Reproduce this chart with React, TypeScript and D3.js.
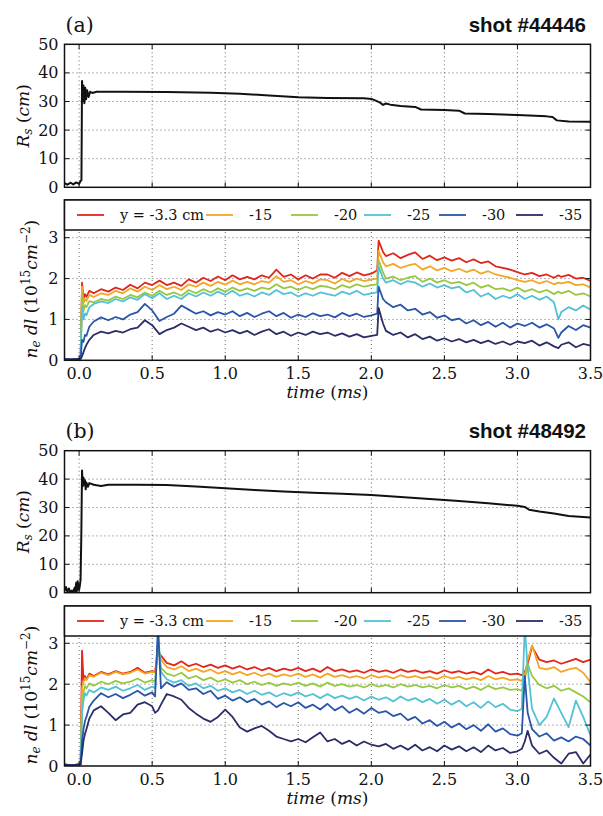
import React from 'react';
import * as d3 from 'd3';

const SERIF = '"DejaVu Serif", serif';
const SANS = '"Liberation Sans", Arial, sans-serif';

// ---- data ----
const xTicks = [0, 0.5, 1.0, 1.5, 2.0, 2.5, 3.0, 3.5];
const rsTicks = [0, 10, 20, 30, 40, 50];
const densTicks = [0, 1, 2, 3];

const seriesLabels = ['y = -3.3 cm', '-15', '-20', '-25', '-30', '-35'];
const seriesColors = ['#e2261c', '#f4a623', '#98c840', '#52c2d4', '#2a55a8', '#2b2d66'];

// shot #44446, shock radius
const rsTimeA = [-0.1, -0.08, -0.06, -0.04, -0.02, 0.0, 0.01, 0.016, 0.02, 0.025,
  0.03, 0.036, 0.042, 0.048, 0.055, 0.065, 0.075, 0.09, 0.12, 0.3,
  0.6, 0.9, 1.1, 1.3, 1.5, 1.7, 1.95, 2.0, 2.03, 2.06,
  2.08, 2.1, 2.13, 2.2, 2.3, 2.34, 2.5, 2.6, 2.64, 2.8,
  3.0, 3.2, 3.24, 3.27, 3.35, 3.5];
const rsA = [1.5, 0.9, 1.6, 1.0, 1.7, 1.2, 2.2, 2.5, 37.2, 30.2,
  35.6, 29.4, 34.8, 30.8, 33.9, 31.6, 33.4, 33.0, 33.4, 33.4,
  33.3, 33.1, 32.7, 32.1, 31.5, 31.2, 31.1, 30.9, 30.3, 29.6,
  28.8, 29.3, 28.9, 28.4, 28.1, 27.2, 27.0, 26.8, 25.8, 25.6,
  25.3, 24.8, 24.6, 23.4, 23.0, 22.9];

// shot #48492, shock radius
const rsTimeB = [-0.1, -0.09, -0.08, -0.07, -0.06, -0.05, -0.04, -0.03, -0.025, -0.02,
  -0.015, -0.01, 0.0, 0.005, 0.01, 0.015, 0.02, 0.025, 0.03, 0.035,
  0.04, 0.045, 0.05, 0.06, 0.07, 0.1, 0.15, 0.2, 0.4, 0.6,
  0.8, 1.0, 1.2, 1.4, 1.6, 1.8, 2.0, 2.2, 2.4, 2.6,
  2.8, 3.0, 3.05, 3.08, 3.15, 3.25, 3.35, 3.5];
const rsB = [0.5, 2.0, 0.3, 1.5, 0.0, 0.8, 0.2, 1.8, 0.5, 3.5,
  0.6, 4.0, 1.0, 2.5, 4.5, 20, 43.0, 37.5, 40.5, 38.0,
  39.6, 36.4, 38.8, 37.3, 38.6, 38.0, 37.6, 38.0, 38.0, 37.9,
  37.4, 36.8, 36.2, 35.6, 35.2, 34.8, 34.4, 33.7, 33.0, 32.3,
  31.5, 30.6, 30.2, 29.2, 28.6, 27.9, 27.0, 26.5];

// shot #44446, line-integrated density
const tA = [-0.1, -0.05, 0.01, 0.02, 0.03, 0.04, 0.05, 0.07, 0.1, 0.15,
  0.2, 0.25, 0.3, 0.35, 0.4, 0.45, 0.5, 0.55, 0.6, 0.65,
  0.7, 0.75, 0.8, 0.85, 0.9, 0.95, 1.0, 1.05, 1.1, 1.15,
  1.2, 1.25, 1.3, 1.35, 1.4, 1.45, 1.5, 1.55, 1.6, 1.65,
  1.7, 1.75, 1.8, 1.85, 1.9, 1.95, 2.0, 2.04, 2.05, 2.08,
  2.1, 2.15, 2.2, 2.25, 2.3, 2.35, 2.4, 2.45, 2.5, 2.55,
  2.6, 2.65, 2.7, 2.75, 2.8, 2.85, 2.9, 2.95, 3.0, 3.05,
  3.1, 3.15, 3.2, 3.25, 3.28, 3.3, 3.35, 3.4, 3.45, 3.5];
const redA = [0.03, 0.02, 0.04, 1.9, 1.5, 1.62, 1.55, 1.7, 1.64, 1.74,
  1.68, 1.78, 1.72, 1.85, 1.76, 1.9, 1.84, 1.95, 1.84, 1.9,
  1.82, 1.98, 1.9, 2.02, 1.94, 2.05, 1.96, 2.08, 1.98, 2.04,
  1.98, 2.08, 2.02, 2.22, 2.04, 2.1, 1.98, 2.08, 2.0, 2.1,
  2.1, 2.02, 2.14, 2.06, 2.15, 2.08, 2.12, 2.2, 2.93, 2.65,
  2.55, 2.62, 2.5, 2.58, 2.64, 2.48, 2.56, 2.45, 2.52, 2.44,
  2.5, 2.4, 2.47, 2.38, 2.42, 2.3, 2.26, 2.22, 2.16, 2.1,
  2.14, 2.06, 2.1, 2.02, 2.08, 2.04, 2.09, 2.0, 2.02, 1.94];
const orangeA = [0.03, 0.02, 0.04, 1.8, 1.4, 1.5, 1.45, 1.6, 1.55, 1.64,
  1.6, 1.7, 1.64, 1.76, 1.68, 1.8, 1.72, 1.84, 1.74, 1.8,
  1.72, 1.86, 1.8, 1.9, 1.82, 1.92, 1.85, 1.95, 1.86, 1.92,
  1.86, 1.94, 1.9, 2.06, 1.92, 1.96, 1.86, 1.94, 1.88, 1.98,
  1.96, 1.88, 1.99, 1.92, 2.0, 1.94, 1.98, 2.0, 2.68, 2.4,
  2.3, 2.36, 2.26, 2.32, 2.36, 2.22, 2.3, 2.2, 2.26, 2.18,
  2.24, 2.16, 2.22, 2.12, 2.18, 2.1, 2.06, 2.02, 1.96, 1.92,
  1.96, 1.88, 1.94, 1.86, 1.9, 1.88, 1.92, 1.84, 1.86, 1.78];
const greenA = [0.03, 0.02, 0.04, 1.6, 1.2, 1.35, 1.3, 1.45, 1.42, 1.5,
  1.46, 1.56, 1.5, 1.6, 1.54, 1.66, 1.58, 1.7, 1.6, 1.66,
  1.58, 1.72, 1.64, 1.74, 1.66, 1.76, 1.68, 1.78, 1.7, 1.76,
  1.7, 1.78, 1.74, 1.86, 1.76, 1.8, 1.72, 1.8, 1.74, 1.82,
  1.8, 1.74, 1.84, 1.78, 1.86, 1.8, 1.84, 1.86, 2.45, 2.15,
  2.0, 2.05, 1.96, 2.02, 2.06, 1.92, 2.0, 1.9, 1.96, 1.88,
  1.92, 1.84, 1.9, 1.78, 1.84, 1.74, 1.76, 1.7, 1.78, 1.68,
  1.74, 1.66, 1.72, 1.62, 1.68, 1.64, 1.7, 1.6, 1.64, 1.56];
const cyanA = [0.03, 0.02, 0.04, 1.3, 1.0, 1.15, 1.1, 1.3, 1.38, 1.44,
  1.4, 1.5, 1.44, 1.54, 1.48, 1.62, 1.52, 1.64, 1.5, 1.58,
  1.5, 1.64, 1.56, 1.66, 1.58, 1.68, 1.6, 1.7, 1.58, 1.64,
  1.56, 1.66, 1.6, 1.72, 1.62, 1.66, 1.56, 1.64, 1.58, 1.66,
  1.62, 1.58, 1.68, 1.62, 1.7, 1.6, 1.64, 1.66, 2.3, 2.0,
  1.9, 1.96, 1.86, 1.94, 1.9, 1.8, 1.88, 1.78, 1.84, 1.76,
  1.8, 1.66, 1.72, 1.56, 1.64, 1.5, 1.58, 1.52, 1.62, 1.5,
  1.58, 1.48, 1.56, 1.42, 1.0, 1.18, 1.3, 1.22, 1.34, 1.24];
const blueA = [0.03, 0.02, 0.04, 0.5, 0.45, 0.62, 0.6, 0.82, 0.95, 1.05,
  0.98, 1.06, 1.0, 1.12, 1.18, 1.38, 1.22, 0.96, 1.06, 1.14,
  1.34, 1.24, 1.14, 1.2, 1.1, 1.18, 1.12, 1.2, 1.08, 1.16,
  1.06, 1.14, 1.2, 1.08, 1.16, 1.04, 1.12, 1.06, 1.15, 1.08,
  1.12, 1.05, 1.16, 1.08, 1.14, 1.06, 1.1, 1.14, 1.8, 1.5,
  1.42, 1.3, 1.36, 1.22, 1.26, 1.12, 1.18, 1.04, 1.1, 0.98,
  1.02, 0.9, 0.98, 0.86, 0.94, 0.82, 0.92, 0.8, 0.9, 0.84,
  0.92, 0.8, 0.88, 0.78, 0.55, 0.68, 0.84, 0.74, 0.86, 0.8];
const navyA = [0.03, 0.02, 0.04, 0.1, 0.2, 0.3, 0.38, 0.5, 0.62, 0.7,
  0.66, 0.72, 0.68, 0.76, 0.8, 0.98, 0.86, 0.64, 0.74, 0.8,
  0.9, 0.82, 0.74, 0.8, 0.7, 0.76, 0.68, 0.74, 0.66, 0.72,
  0.62, 0.7, 0.76, 0.64, 0.7, 0.6, 0.68, 0.62, 0.7, 0.64,
  0.68, 0.6, 0.66, 0.58, 0.64, 0.56, 0.6, 0.62, 1.28, 0.9,
  0.72, 0.62, 0.68, 0.56, 0.64, 0.52, 0.58, 0.48, 0.54, 0.46,
  0.52, 0.44, 0.5, 0.42, 0.48, 0.4, 0.46, 0.38, 0.46, 0.42,
  0.48, 0.36, 0.44, 0.34, 0.3, 0.38, 0.44, 0.32, 0.4, 0.36];

// shot #48492, line-integrated density
const tB = [-0.1, -0.05, 0.01, 0.02, 0.03, 0.04, 0.05, 0.07, 0.1, 0.15,
  0.2, 0.25, 0.3, 0.35, 0.4, 0.45, 0.5, 0.52, 0.54, 0.56,
  0.6, 0.65, 0.7, 0.75, 0.8, 0.85, 0.9, 0.95, 1.0, 1.05,
  1.1, 1.15, 1.2, 1.25, 1.3, 1.35, 1.4, 1.45, 1.5, 1.55,
  1.6, 1.65, 1.7, 1.75, 1.8, 1.85, 1.9, 1.95, 2.0, 2.05,
  2.1, 2.15, 2.2, 2.25, 2.3, 2.35, 2.4, 2.45, 2.5, 2.55,
  2.6, 2.65, 2.7, 2.75, 2.8, 2.85, 2.9, 2.95, 3.0, 3.03,
  3.05, 3.07, 3.1, 3.15, 3.2, 3.25, 3.3, 3.35, 3.4, 3.45,
  3.5];
const redB = [0.03, 0.02, 0.04, 2.82, 2.1, 2.2, 2.12, 2.26, 2.2, 2.3,
  2.24, 2.32, 2.26, 2.3, 2.4, 2.28, 2.32, 2.3, 2.8, 2.7,
  2.52, 2.46, 2.56, 2.44, 2.5, 2.42, 2.48, 2.4, 2.46, 2.38,
  2.44, 2.36, 2.42, 2.34, 2.4, 2.32, 2.38, 2.34, 2.4, 2.32,
  2.38, 2.3, 2.42, 2.32, 2.36, 2.3, 2.34, 2.28, 2.36, 2.3,
  2.34, 2.28, 2.36, 2.3, 2.34, 2.28, 2.32, 2.26, 2.34, 2.28,
  2.32, 2.26, 2.3, 2.24, 2.36, 2.26, 2.3, 2.24, 2.26, 2.22,
  2.3, 2.5, 2.92, 2.6, 2.54, 2.58, 2.5, 2.56, 2.62, 2.54,
  2.6];
const orangeB = [0.03, 0.02, 0.04, 1.9, 2.05, 2.15, 2.1, 2.22, 2.18, 2.28,
  2.22, 2.3, 2.24, 2.28, 2.36, 2.26, 2.3, 2.28, 2.9, 2.6,
  2.42, 2.36, 2.44, 2.32, 2.38, 2.3, 2.36, 2.26, 2.32, 2.24,
  2.3, 2.22, 2.28, 2.2, 2.26, 2.18, 2.24, 2.2, 2.26, 2.18,
  2.24, 2.16, 2.26, 2.18, 2.22, 2.16, 2.2, 2.14, 2.22, 2.16,
  2.2, 2.14, 2.22, 2.16, 2.2, 2.14, 2.18, 2.12, 2.2, 2.14,
  2.18, 2.12, 2.16, 2.1, 2.2, 2.12, 2.16, 2.1, 2.12, 2.08,
  2.2, 2.6, 2.95, 2.4, 2.36, 2.42, 2.3, 2.36, 2.4, 2.28,
  2.05];
const greenB = [0.03, 0.02, 0.04, 1.5, 1.8, 1.95, 1.9, 2.02, 1.96, 2.06,
  2.0, 2.08, 2.02, 2.06, 2.14, 2.04, 2.1, 2.06, 3.0, 2.4,
  2.26, 2.2, 2.28, 2.14, 2.2, 2.1, 2.16, 2.06, 2.12, 2.04,
  2.1, 2.0, 2.06, 1.98, 2.04, 1.96, 2.02, 1.98, 2.04, 1.96,
  2.02, 1.94, 2.04, 1.96, 2.0, 1.94, 1.98, 1.92, 2.0, 1.94,
  1.98, 1.92, 2.0, 1.94, 1.98, 1.92, 1.96, 1.9, 1.98, 1.92,
  1.96, 1.88, 1.94, 1.86, 1.96, 1.88, 1.92, 1.86, 1.88, 1.84,
  2.1, 2.5, 2.2, 1.98, 1.9, 1.96, 1.84, 1.9, 1.8, 1.7,
  1.56];
const cyanB = [0.03, 0.02, 0.04, 1.3, 1.6, 1.78, 1.72, 1.86, 1.8, 1.92,
  1.86, 1.94, 1.84, 1.9, 1.98, 1.86, 1.94, 1.9, 3.3, 2.3,
  2.12, 2.04, 2.1, 1.96, 2.02, 1.9, 1.96, 1.84, 1.9, 1.8,
  1.86, 1.76, 1.84, 1.74, 1.8, 1.7, 1.78, 1.72, 1.8, 1.7,
  1.76, 1.66, 1.76, 1.66, 1.72, 1.64, 1.7, 1.6, 1.7, 1.62,
  1.68, 1.58, 1.7, 1.6, 1.66, 1.56, 1.64, 1.52, 1.62, 1.5,
  1.6, 1.46, 1.56, 1.42, 1.58, 1.44, 1.52, 1.38, 1.34, 1.4,
  3.4, 2.4, 1.4, 1.0, 1.2, 1.65, 1.3, 0.95, 1.6, 1.2,
  0.75];
const blueB = [0.03, 0.02, 0.04, 0.6, 0.9, 1.1, 1.2, 1.45, 1.6, 1.78,
  1.68, 1.76, 1.66, 1.74, 1.84, 1.72, 1.8, 1.7, 3.4, 1.9,
  2.05, 1.94, 2.02, 1.86, 1.9, 1.76, 1.84, 1.64, 1.72, 1.6,
  1.68, 1.56, 1.64, 1.5, 1.58, 1.44, 1.54, 1.46, 1.56, 1.42,
  1.5, 1.38, 1.52, 1.36, 1.46, 1.3, 1.4, 1.28, 1.42, 1.3,
  1.34, 1.22, 1.28, 1.12, 1.2, 1.04, 1.12, 0.98, 1.08, 0.94,
  1.04, 0.9, 1.0, 0.86, 1.02, 0.84, 0.92, 0.78, 0.74, 0.8,
  2.2, 1.3, 0.9, 0.72, 0.8, 0.62, 0.7, 0.6, 0.72, 0.66,
  0.5];
const navyB = [0.03, 0.02, 0.04, 0.3, 0.62, 0.78, 0.9, 1.16, 1.36, 1.46,
  1.3, 1.12, 1.26, 1.3, 1.5, 1.56, 1.46, 1.3, 1.36, 1.5,
  1.76, 1.7, 1.62, 1.42, 1.28, 1.16, 1.08, 1.2, 1.38, 1.2,
  0.94, 0.84, 0.92, 0.98, 0.86, 0.72, 0.66, 0.6, 0.66, 0.58,
  0.7, 0.82, 0.6, 0.66, 0.54, 0.62, 0.5, 0.6, 0.52, 0.48,
  0.54, 0.42, 0.5, 0.4, 0.52, 0.38, 0.46, 0.36, 0.5, 0.4,
  0.48, 0.36, 0.46, 0.34, 0.5, 0.38, 0.44, 0.32, 0.36, 0.42,
  0.6, 0.86, 0.5, 0.3, 0.38, 0.2, 0.06, 0.3, 0.34, 0.06,
  0.28];

const densA = [redA, orangeA, greenA, cyanA, blueA, navyA];
const densB = [redB, orangeB, greenB, cyanB, blueB, navyB];

// ---- layout ----
const LEFT = 64.5;
const RIGHT = 590.5;
const x = d3.scaleLinear().domain([-0.1, 3.5]).range([LEFT, RIGHT]);

const grid = { stroke: '#444', strokeWidth: 0.8, strokeDasharray: '1,3' };
const TICK = 5;
const legendHandles = [77, 206, 291, 364, 439, 516];

const lineFor = (t: number[], y: d3.ScaleLinear<number, number>) =>
  d3.line<number>().x((_, i) => x(t[i])).y(d => y(d));

function Grid({ top, bottom, y, yTicks }: any) {
  return (
    <g>
      {xTicks.filter(d => d < 3.5).map(d => (
        <line key={'v' + d} x1={x(d)} x2={x(d)} y1={top} y2={bottom} {...grid} />
      ))}
      {yTicks.map((d: number) => (
        <line key={'h' + d} x1={LEFT} x2={RIGHT} y1={y(d)} y2={y(d)} {...grid} />
      ))}
    </g>
  );
}

function Ticks({ top, bottom, y, yTicks }: any) {
  return (
    <g stroke="#111" strokeWidth={1}>
      {xTicks.filter(d => d < 3.5).map(d => (
        <g key={'x' + d}>
          <line x1={x(d)} x2={x(d)} y1={bottom} y2={bottom - TICK} />
          <line x1={x(d)} x2={x(d)} y1={top} y2={top + TICK} />
        </g>
      ))}
      {yTicks.map((d: number) => (
        <g key={'y' + d}>
          <line x1={LEFT} x2={LEFT + TICK} y1={y(d)} y2={y(d)} />
          <line x1={RIGHT} x2={RIGHT - TICK} y1={y(d)} y2={y(d)} />
        </g>
      ))}
    </g>
  );
}

function RsPanel({ top, bottom, t, v, id, tag, tagY, shot }: any) {
  const y = d3.scaleLinear().domain([0, 50]).range([bottom, top]);
  const inner = rsTicks.filter(d => d > 0 && d < 50);
  return (
    <g>
      <defs>
        <clipPath id={id}>
          <rect x={LEFT} y={top} width={RIGHT - LEFT} height={bottom - top} />
        </clipPath>
      </defs>
      <Grid top={top} bottom={bottom} y={y} yTicks={inner} />
      <path d={lineFor(t, y)(v) || ''} fill="none" stroke="#111" strokeWidth={2}
        strokeLinejoin="round" clipPath={`url(#${id})`} />
      <rect x={LEFT} y={top} width={RIGHT - LEFT} height={bottom - top} fill="none" stroke="#111" strokeWidth={1.5} />
      <Ticks top={top} bottom={bottom} y={y} yTicks={inner} />
      {rsTicks.map(d => (
        <text key={d} x={LEFT - 6} y={y(d) + 5.5} textAnchor="end" fontFamily={SERIF} fontSize={16} fill="#111">{d}</text>
      ))}
      <text transform={`translate(29,${(top + bottom) / 2}) rotate(-90)`} textAnchor="middle"
        fontFamily={SERIF} fontSize={17} fill="#111">
        <tspan fontStyle="italic">R</tspan>
        <tspan fontStyle="italic" fontSize={12} dy={3}>s</tspan>
        <tspan dy={-3}>{'\u00a0('}</tspan>
        <tspan fontStyle="italic">cm</tspan>
        <tspan>)</tspan>
      </text>
      <text x={65.5} y={tagY} fontFamily={SERIF} fontSize={20.5} fill="#111">{tag}</text>
      <text x={586} y={tagY - 0.5} textAnchor="end" fontFamily={SANS} fontWeight="bold" fontSize={20.5} fill="#111">{shot}</text>
    </g>
  );
}

function DensityPanel({ frameTop, legendBottom, zeroY, threeY, t, series, id }: any) {
  const y = d3.scaleLinear().domain([0, 3]).range([zeroY, threeY]);
  const inner = densTicks.filter(d => d > 0);
  const ly = (frameTop + legendBottom) / 2;
  return (
    <g>
      <defs>
        <clipPath id={id}>
          <rect x={LEFT} y={frameTop} width={RIGHT - LEFT} height={zeroY - frameTop} />
        </clipPath>
      </defs>
      <Grid top={frameTop} bottom={zeroY} y={y} yTicks={inner} />
      <g clipPath={`url(#${id})`}>
        {series.map((s: number[], i: number) => (
          <path key={i} d={lineFor(t, y)(s) || ''} fill="none" stroke={seriesColors[i]}
            strokeWidth={1.8} strokeLinejoin="round" />
        ))}
      </g>
      <rect x={LEFT} y={frameTop} width={RIGHT - LEFT} height={zeroY - frameTop} fill="none" stroke="#111" strokeWidth={1.5} />
      <Ticks top={frameTop} bottom={zeroY} y={y} yTicks={inner} />
      {/* legend */}
      <rect x={LEFT} y={frameTop} width={RIGHT - LEFT} height={legendBottom - frameTop} fill="#fff" stroke="#111" strokeWidth={1.5} />
      {seriesLabels.map((lab, i) => (
        <g key={lab}>
          <line x1={legendHandles[i]} x2={legendHandles[i] + 27} y1={ly} y2={ly} stroke={seriesColors[i]} strokeWidth={1.8} />
          <text x={legendHandles[i] + 43} y={ly + 5} fontFamily={SERIF} fontSize={14.5} fill="#111">{lab}</text>
        </g>
      ))}
      {densTicks.map(d => (
        <text key={d} x={LEFT - 6} y={y(d) + 5.5} textAnchor="end" fontFamily={SERIF} fontSize={16} fill="#111">{d}</text>
      ))}
      {xTicks.map(d => (
        <text key={d} x={x(d)} y={zeroY + 19} textAnchor="middle" fontFamily={SERIF} fontSize={16} fill="#111">{d.toFixed(1)}</text>
      ))}
      <text x={(LEFT + RIGHT) / 2} y={zeroY + 37.5} textAnchor="middle" fontFamily={SERIF} fontSize={17} fill="#111">
        <tspan fontStyle="italic">time</tspan>
        <tspan>{'\u00a0('}</tspan>
        <tspan fontStyle="italic">ms</tspan>
        <tspan>)</tspan>
      </text>
      <text transform={`translate(36.5,${(legendBottom + zeroY) / 2 - 6}) rotate(-90)`} textAnchor="middle"
        fontFamily={SERIF} fontSize={17} fill="#111">
        <tspan fontStyle="italic">n</tspan>
        <tspan fontStyle="italic" fontSize={12} dy={3}>e</tspan>
        <tspan fontStyle="italic" dy={-3}>{'\u00a0dl'}</tspan>
        <tspan>{'\u00a0(10'}</tspan>
        <tspan fontSize={12} dy={-7}>15</tspan>
        <tspan fontStyle="italic" dy={7}>cm</tspan>
        <tspan fontSize={12} dy={-7}>{'\u22122'}</tspan>
        <tspan dy={7}>)</tspan>
      </text>
    </g>
  );
}

export default function App() {
  return (
    <svg width={603} height={816} style={{ position: 'absolute', left: 0, top: 0, background: '#fff' }}>
      <rect width={603} height={816} fill="#fff" />
      <RsPanel top={44.3} bottom={187.3} t={rsTimeA} v={rsA} id="rsA" tag="(a)" tagY={32} shot="shot #44446" />
      <DensityPanel frameTop={200} legendBottom={230} zeroY={360.3} threeY={237.7} t={tA} series={densA} id="nA" />
      <RsPanel top={450.7} bottom={592.7} t={rsTimeB} v={rsB} id="rsB" tag="(b)" tagY={438} shot="shot #48492" />
      <DensityPanel frameTop={606} legendBottom={636} zeroY={766} threeY={643.3} t={tB} series={densB} id="nB" />
    </svg>
  );
}
